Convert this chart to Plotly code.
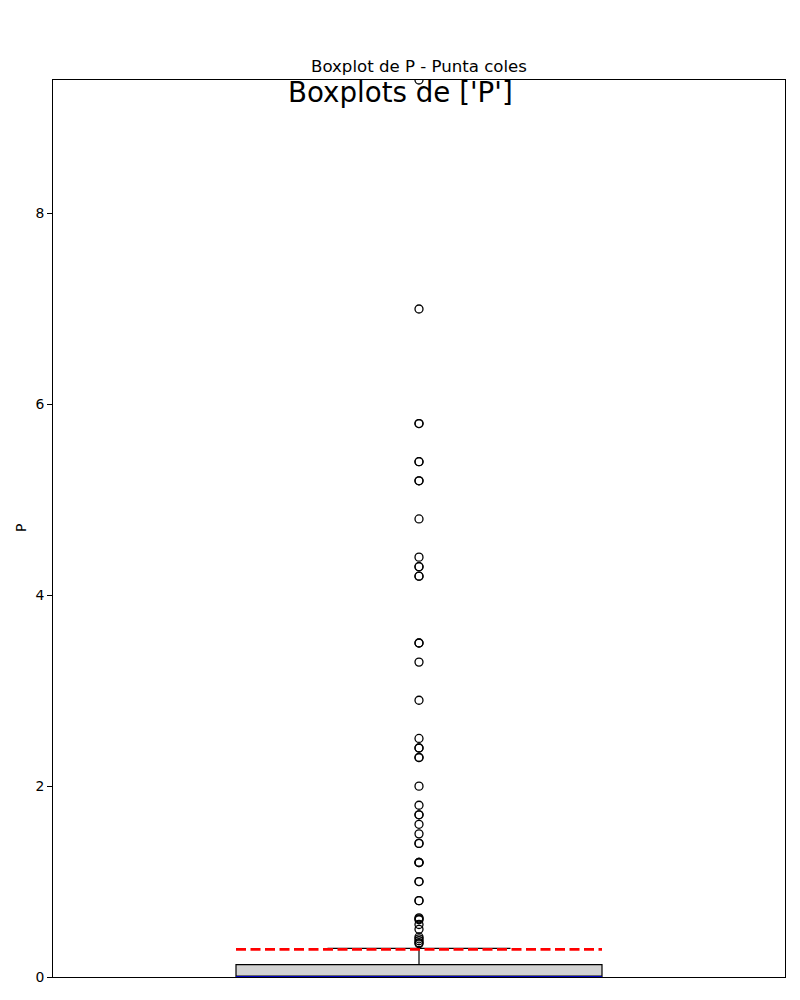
import plotly.graph_objects as go

# ---- data ----
box_position = [1]
q1_vals = [0.0]
median_vals = [0.0]
q3_vals = [0.13]
lower_fence = [0.0]
upper_fence = [0.30]
mean_value = 0.29
outliers = [9.4, 7.0, 5.8, 5.8, 5.4, 5.4, 5.2, 5.2, 4.8, 4.4, 4.3, 4.3, 4.2, 4.2,
            3.5, 3.5, 3.3, 2.9, 2.5, 2.4, 2.4, 2.3, 2.3, 2.0, 1.8, 1.7, 1.7, 1.6,
            1.5, 1.4, 1.4, 1.2, 1.2, 1.2, 1.0, 1.0, 0.8, 0.8, 0.62, 0.61, 0.6,
            0.55, 0.5, 0.42, 0.4, 0.38, 0.36, 0.35]
y_ticks = [0, 2, 4, 6, 8]
y_range = [0, 9.4]
box_width = 0.5

suptitle = "Boxplots de ['P']"
axes_title = "Boxplot de P - Punta coles"
y_label = "P"

FONT = "DejaVu Sans"

fig = go.Figure()

fig.add_trace(go.Box(
    x=box_position, q1=q1_vals, median=median_vals, q3=q3_vals,
    lowerfence=lower_fence, upperfence=upper_fence,
    width=box_width, whiskerwidth=0.5,
    fillcolor="lightgray", line=dict(color="black", width=1.2),
    boxpoints=False, showlegend=False, hoverinfo="skip",
))

x0 = box_position[0] - box_width / 2
x1 = box_position[0] + box_width / 2

# median line (blue)
fig.add_trace(go.Scatter(
    x=[x0, x1], y=[median_vals[0], median_vals[0]], mode="lines",
    line=dict(color="blue", width=1.5), showlegend=False, hoverinfo="skip",
))

# mean line (red dashed)
fig.add_trace(go.Scatter(
    x=[x0, x1], y=[mean_value, mean_value], mode="lines",
    line=dict(color="red", width=2.8, dash="10px,4.5px"),
    showlegend=False, hoverinfo="skip",
))

# outliers
fig.add_trace(go.Scatter(
    x=[box_position[0]] * len(outliers), y=outliers, mode="markers",
    marker=dict(symbol="circle", size=8, color="rgba(0,0,0,0)",
                line=dict(color="black", width=1.3)),
    showlegend=False, hoverinfo="skip",
))

L, R, T, B = 53, 15, 80, 23
plot_h = 1000 - T - B
plot_w = 800 - L - R

fig.update_layout(
    width=800, height=1000,
    margin=dict(l=L, r=R, t=T, b=B, pad=0),
    paper_bgcolor="white", plot_bgcolor="white",
    font=dict(family=FONT, color="black", size=14),
    xaxis=dict(range=[0.5, 1.5], showgrid=False, zeroline=False,
               showticklabels=False, ticks="", showline=True, mirror=True,
               linecolor="black", linewidth=1),
    yaxis=dict(range=y_range, tickvals=y_ticks, showgrid=False, zeroline=False,
               ticks="outside", ticklen=5, tickwidth=1, tickcolor="black",
               tickfont=dict(size=13.9, family=FONT),
               showline=True, mirror=True, linecolor="black", linewidth=1),
    annotations=[
        dict(text=axes_title, xref="paper", yref="paper", x=0.5,
             y=(1000 - B - 66) / plot_h, xanchor="center", yanchor="middle",
             showarrow=False, font=dict(size=16.6, family=FONT)),
        dict(text=suptitle, xref="paper", yref="paper",
             x=(400 - L) / plot_w, y=(1000 - B - 93) / plot_h,
             xanchor="center", yanchor="middle",
             showarrow=False, font=dict(size=27.7, family=FONT)),
        dict(text=y_label, xref="paper", yref="paper",
             x=(21 - L) / plot_w, y=(1000 - B - 528) / plot_h,
             xanchor="center", yanchor="middle", textangle=-90,
             showarrow=False, font=dict(size=13.9, family=FONT)),
    ],
)

fig.write_html("out.html")
